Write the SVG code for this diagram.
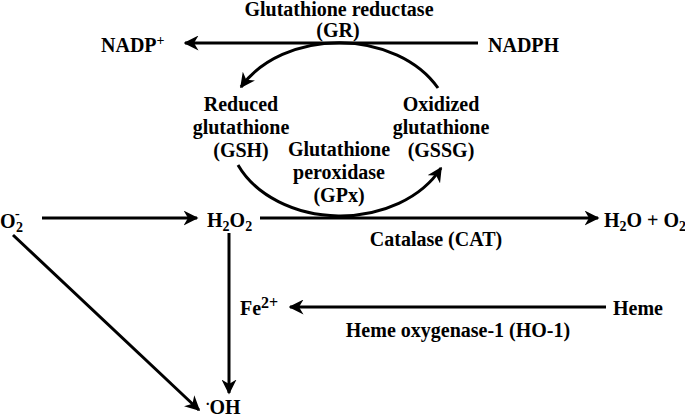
<svg xmlns="http://www.w3.org/2000/svg" width="685" height="420" viewBox="0 0 685 420">
<defs>
<marker id="ah" viewBox="0 0 10 10" refX="9" refY="5" markerWidth="5" markerHeight="5" markerUnits="strokeWidth" orient="auto">
<path d="M0,0 L10,5 L0,10 L3,5 z" fill="#000"/>
</marker>
<style>
text{font-family:"Liberation Serif","Times New Roman",serif;font-weight:bold;font-size:20px;fill:#000}
.c{text-anchor:middle}
.sm{font-size:14px}
.ln{fill:none;stroke:#000;stroke-width:3;marker-end:url(#ah)}
</style>
</defs>
<rect width="685" height="420" fill="#fff"/>
<g id="connectors">
<path class="ln" d="M478,43 L185,43"/>
<path class="ln" d="M438,88 A112 85.5 0 0 0 241,87"/>
<path class="ln" d="M238,165 A112 85.5 0 0 0 441,168"/>
<path class="ln" d="M42,218 L197,218"/>
<path class="ln" d="M260,218 L598,218"/>
<path class="ln" d="M229,233 L229,393"/>
<path class="ln" d="M13,235 L199,410"/>
<path class="ln" d="M606,307 L290,307"/>
</g>
<g id="gr"><text class="c" x="339" y="16">Glutathione reductase</text><text class="c" x="338" y="37">(GR)</text></g>
<g id="nadp"><text x="101" y="52">NADP<tspan class="sm" dy="-7">+</tspan></text></g>
<g id="nadph"><text x="488" y="52">NADPH</text></g>
<g id="gsh"><text class="c" x="241" y="111">Reduced</text><text class="c" x="241" y="134">glutathione</text><text class="c" x="241" y="157">(GSH)</text></g>
<g id="gssg"><text class="c" x="441" y="111">Oxidized</text><text class="c" x="441" y="134">glutathione</text><text class="c" x="441" y="157">(GSSG)</text></g>
<g id="gpx"><text class="c" x="339" y="156">Glutathione</text><text class="c" x="339" y="179">peroxidase</text><text class="c" x="339" y="202">(GPx)</text></g>
<g id="o2"><text x="0" y="228">O<tspan class="sm" x="15" dy="-10">-</tspan><tspan class="sm" x="16" dy="14">2</tspan></text></g>
<g id="h2o2"><text x="207" y="227">H<tspan class="sm" dy="4">2</tspan><tspan dy="-4">O</tspan><tspan class="sm" dy="4">2</tspan></text></g>
<g id="cat"><text class="c" x="436" y="246">Catalase (CAT)</text></g>
<g id="h2o"><text x="604" y="227">H<tspan class="sm" dy="4">2</tspan><tspan dy="-4">O + O</tspan><tspan class="sm" dy="4">2</tspan></text></g>
<g id="fe"><text x="240" y="315">Fe<tspan font-size="16" dy="-7">2+</tspan></text></g>
<g id="heme"><text x="613" y="315">Heme</text></g>
<g id="ho1"><text class="c" x="458" y="337">Heme oxygenase-1 (HO-1)</text></g>
<g id="oh"><text x="206" y="414"><tspan class="sm" dy="-9">.</tspan><tspan dy="9">OH</tspan></text></g>
</svg>
